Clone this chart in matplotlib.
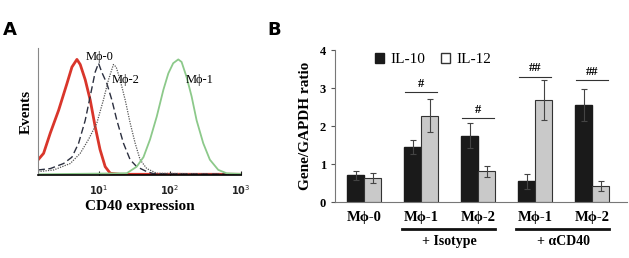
import matplotlib
matplotlib.use("Agg")
import matplotlib.pyplot as plt
import numpy as np
from matplotlib.patches import Patch
from matplotlib.transforms import blended_transform_factory

plt.rcParams["font.family"] = ["Liberation Serif", "DejaVu Serif"]

# ---- panel A: CD40 histograms (y in % of axis height)
m0_x = [1.41, 2.10, 3.23, 4.23, 5.25, 6.50, 7.64, 8.97, 10.0, 11.1, 13.1, 15.4,
        18.1, 22.4, 27.8, 34.4, 47.6, 59.0, 1000]
m0_y = [3.9, 5, 9, 14, 25, 43, 62, 81, 88, 81, 72, 59, 43, 25, 12, 6.5, 2.6, 1, 0.5]

m2_x = [1.41, 2.34, 4.01, 5.53, 7.24, 9.48, 11.7, 13.8, 16.2, 17.7, 20.1, 23.7,
        27.8, 32.7, 38.4, 47.6, 65.8, 1000]
m2_y = [2.6, 3.9, 9, 17, 28, 41, 59, 75, 87, 85, 75, 59, 41, 25, 12, 5, 1.3, 0.5]

m1_x = [1.41, 24.9, 34.4, 42.8, 53.0, 65.8, 81.5, 95.7, 112, 132, 147, 173, 203,
        239, 296, 367, 481, 630, 1000]
m1_y = [0.5, 1.3, 6.5, 14, 28, 46, 67, 80, 88, 91, 89, 77, 62, 43, 25, 12, 4, 1.3, 0.8]

iso_x = [1.41, 1.69, 2.10, 2.75, 3.60, 4.23, 4.97, 5.53, 6.50, 7.64, 8.97, 10.5,
         12.4, 14.6, 20, 1000]
iso_y = [11.8, 17, 33, 51, 72, 85, 91, 87, 75, 59, 38, 20, 6.5, 1.3, 0.5, 0.5]

# ---- panel B: gene / GAPDH ratio
groups = ["M\u03d5-0", "M\u03d5-1", "M\u03d5-2", "M\u03d5-1", "M\u03d5-2"]
il10 = [0.70, 1.45, 1.74, 0.55, 2.55]
il10_err = [0.11, 0.18, 0.33, 0.20, 0.42]
il12 = [0.63, 2.27, 0.81, 2.68, 0.42]
il12_err = [0.13, 0.43, 0.14, 0.53, 0.13]
sig_marks = ["#", "#", "##", "##"]
sig_groups = [1, 2, 3, 4]
sig_heights = [2.90, 2.20, 3.30, 3.21]
treatments = ["+ Isotype", "+ \u03b1CD40"]

fig = plt.figure(figsize=(6.29, 2.58), dpi=100)

# ================= A
axA = fig.add_axes([0.0604, 0.322, 0.3225, 0.492])
axA.plot(iso_x, iso_y, color="#d9362b", lw=2.0)
axA.plot(m0_x, m0_y, color="#2b2f3f", lw=1.0, ls=(0, (5, 2.5)))
axA.plot(m2_x, m2_y, color="#555555", lw=0.9, ls=(0, (1, 1)))
axA.plot(m1_x, m1_y, color="#8cc98a", lw=1.3)
axA.set_xscale("log")
axA.set_xlim(1.41, 1000)
axA.set_ylim(0, 100)
axA.set_yticks([])
axA.set_xticks([10, 100, 1000])
axA.set_xticklabels(["10$^1$", "10$^2$", "10$^3$"], family="DejaVu Sans",
                    fontsize=7, fontweight="bold")
axA.xaxis.set_minor_locator(matplotlib.ticker.NullLocator())
axA.tick_params(axis="x", direction="in", length=3, width=0.8, pad=6, colors="#222222")
for s in ["top", "right"]:
    axA.spines[s].set_visible(False)
axA.spines["left"].set_color("#888888")
axA.spines["left"].set_linewidth(0.8)
axA.spines["bottom"].set_linewidth(1.2)
axA.set_xlabel("CD40 expression", fontsize=11, fontweight="bold", labelpad=2)
axA.set_ylabel("Events", fontsize=11, fontweight="bold", labelpad=4)
axA.text(10.2, 93, "M\u03d5-0", fontsize=9, ha="center", va="center")
axA.text(24, 75, "M\u03d5-2", fontsize=9, ha="center", va="center")
axA.text(260, 75, "M\u03d5-1", fontsize=9, ha="center", va="center")
fig.text(0.005, 0.865, "A", fontsize=13, fontweight="bold", family="DejaVu Sans")

# ================= B
axB = fig.add_axes([0.533, 0.217, 0.464, 0.589])
x = np.arange(len(groups))
w = 0.3
ekw = dict(ecolor="#444444", elinewidth=0.8, capsize=2, capthick=0.8)
axB.bar(x - w / 2, il10, w, yerr=il10_err, color="#1a1a1a", edgecolor="#1a1a1a",
        error_kw=ekw)
axB.bar(x + w / 2, il12, w, yerr=il12_err, color="#c9c9c9", edgecolor="#333333",
        linewidth=0.8, error_kw=ekw)
axB.set_xlim(-0.51, 4.61)
axB.set_ylim(0, 4)
axB.set_yticks([0, 1, 2, 3, 4])
axB.set_yticklabels(["0", "1", "2", "3", "4"], fontsize=9, fontweight="bold")
axB.set_xticks([])
axB.tick_params(axis="y", length=3, width=0.8, colors="#555555", labelcolor="black")
for s in ["top", "right"]:
    axB.spines[s].set_visible(False)
axB.spines["left"].set_color("#777777")
axB.spines["bottom"].set_color("#777777")
axB.set_ylabel("Gene/GAPDH ratio", fontsize=11, fontweight="bold", labelpad=6)

for gi, mark, h in zip(sig_groups, sig_marks, sig_heights):
    axB.plot([gi - 0.28, gi + 0.28], [h, h], color="#333333", lw=0.8)
    axB.text(gi, h + 0.06, mark, ha="center", va="bottom", fontsize=9,
             fontweight="bold")

tr = blended_transform_factory(axB.transData, axB.transAxes)
for i, g in enumerate(groups):
    axB.text(i, -0.06, g, transform=tr, ha="center", va="top", fontsize=10.5,
             fontweight="bold")
for c, t in zip([1.5, 3.5], treatments):
    axB.plot([c - 0.84, c + 0.8], [-0.178, -0.178], transform=tr, color="#111111",
             lw=2, clip_on=False)
    axB.text(c, -0.215, t, transform=tr, ha="center", va="top", fontsize=10,
             fontweight="bold")

handles = [Patch(facecolor="#1a1a1a", edgecolor="#1a1a1a"),
           Patch(facecolor="white", edgecolor="#333333")]
axB.legend(handles, ["IL-10", "IL-12"], ncol=2, frameon=False, fontsize=11,
           loc="upper left", bbox_to_anchor=(0.09, 1.07), handlelength=0.6,
           handleheight=0.6, handletextpad=0.4, columnspacing=1.0)
fig.text(0.425, 0.865, "B", fontsize=13, fontweight="bold", family="DejaVu Sans")

fig.savefig("out.png", dpi=100)
